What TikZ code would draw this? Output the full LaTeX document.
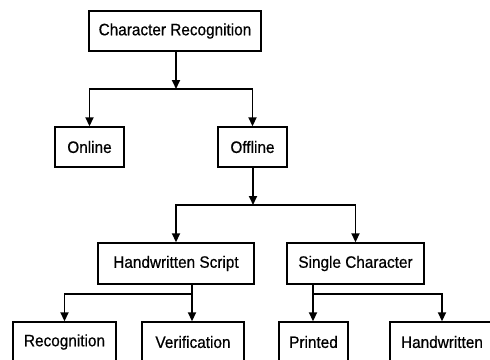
\documentclass[tikz,border=0pt]{standalone}
\usepackage{graphicx}
\usepackage{fontspec}
\setmainfont{Liberation Sans}[BoldFont=Liberation Sans,BoldFeatures={FakeBold=0.6}]
\usetikzlibrary{arrows.meta}
\newcommand\boxlbl[1]{\scalebox{0.93}[1]{#1}}
\begin{document}
\begin{tikzpicture}[x=1pt,y=-1pt,
  box/.style={draw,line width=1.4pt,rectangle,inner sep=0pt,font=\fontsize{16.5}{19}\selectfont\bfseries},
  conn/.style={line width=1.8pt},
  arr/.style={conn,-{Triangle[length=9pt,width=8pt]}}]
\useasboundingbox (0,0) rectangle (490,359);
\clip (0,0) rectangle (490,359);
\fill[white] (0,0) rectangle (490,359);
\node[box,minimum width=172,minimum height=40] (cr) at (175,31) {\boxlbl{Character Recognition}};
\node[box,minimum width=69,minimum height=40] (on) at (89.5,147) {\boxlbl{Online}};
\node[box,minimum width=69,minimum height=40] (off) at (252.5,147) {\boxlbl{Offline}};
\node[box,minimum width=156,minimum height=41] (hs) at (176,263.5) {\boxlbl{Handwritten Script}};
\node[box,minimum width=137,minimum height=41] (sc) at (355.5,263.5) {\boxlbl{Single Character}};
\node[box,minimum width=103,minimum height=40] (rec) at (64.5,342) {\boxlbl{Recognition}};
\node[box,minimum width=102,minimum height=40] (ver) at (193,342) {\boxlbl{Verification}};
\node[box,minimum width=69,minimum height=40] (pri) at (313.5,342) {\boxlbl{Printed}};
\node[box,minimum width=104,minimum height=40] (hw) at (442,342) {\boxlbl{Handwritten}};
\coordinate (j1) at (176,89);
\coordinate (j2) at (253,205);
\coordinate (j3) at (192,294);
\coordinate (j4) at (313,294);
\draw[arr] (cr.south -| j1) -- (j1);
\draw[arr] (j1) -| (on.north);
\draw[arr] (j1) -| (off.north);
\draw[arr] (off.south -| j2) -- (j2);
\draw[arr] (j2) -| (hs.north);
\draw[arr] (j2) -| (sc.north);
\draw[conn] (hs.south -| j3) -- (j3);
\draw[arr] (j3) -| (rec.north);
\draw[arr] (j3) -- (ver.north -| j3);
\draw[conn] (sc.south -| j4) -- (j4);
\draw[arr] (j4) -- (pri.north -| j4);
\draw[arr] (j4) -| (hw.north);
\end{tikzpicture}
\end{document}
